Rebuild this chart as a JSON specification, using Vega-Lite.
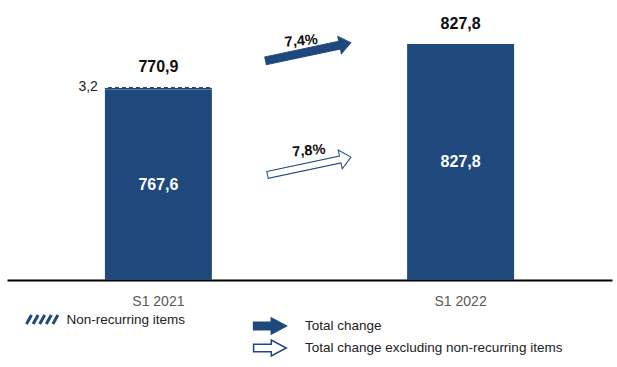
{
  "$schema": "https://vega.github.io/schema/vega-lite/v6.json",
  "width": 605,
  "height": 280,
  "autosize": {"type": "none"},
  "padding": {"left": 7, "top": 0, "right": 5, "bottom": 87},
  "background": "white",
  "config": {
    "view": {"stroke": null},
    "font": "Liberation Sans",
    "locale": {"number": {"decimal": ",", "thousands": " ", "grouping": [3], "currency": ["", " €"]}},
    "axisX": {"domainColor": "#000000", "domainWidth": 2, "ticks": false, "tickSize": 0, "labelPadding": 14, "labelFontSize": 14, "labelColor": "#595959", "labelFont": "Liberation Sans", "title": null, "grid": false, "labelAngle": 0}
  },
  "datasets": {
    "bars": [
      {"period": "S1 2021", "component": "Recurring", "value": 767.6},
      {"period": "S1 2021", "component": "Non-recurring items", "value": 3.2},
      {"period": "S1 2022", "component": "Recurring", "value": 827.8}
    ],
    "totals": [
      {"period": "S1 2021", "total": 770.9, "nonrec": 3.2},
      {"period": "S1 2022", "total": 827.8}
    ],
    "changes": [
      {"kind": "Total change", "change": 0.074},
      {"kind": "Total change excluding non-recurring items", "change": 0.078}
    ]
  },
  "resolve": {"scale": {"y": "independent"}},
  "layer": [
    {
      "layer": [
        {
          "data": {"name": "bars"},
          "mark": {"type": "bar"},
          "encoding": {
            "x": {"field": "period", "type": "nominal", "scale": {"paddingInner": 0.646, "paddingOuter": 0.324}, "title": null},
            "y": {"field": "value", "type": "quantitative", "stack": "zero", "scale": {"domain": [515.5, 886], "zero": false, "nice": false, "clamp": true}, "axis": null},
            "color": {
              "field": "component", "type": "nominal",
              "scale": {"domain": ["Recurring", "Non-recurring items"], "range": ["#1f497d", "#1f497d"]},
              "legend": {
                "title": null, "orient": "none", "legendX": 24.5, "legendY": 308, "values": ["Non-recurring items"],
                "padding": 0, "symbolSize": 400, "labelOffset": 12, "labelFontSize": 13.5, "labelColor": "#222222", "labelFont": "Liberation Sans", "labelLimit": 400,
                "encode": {"symbols": {"update": {
                  "shape": {"value": "M -1.65 0.45 L -1.15 -0.45 M -0.99 0.45 L -0.49 -0.45 M -0.33 0.45 L 0.17 -0.45 M 0.33 0.45 L 0.83 -0.45 M 0.99 0.45 L 1.49 -0.45"},
                  "fill": {"value": "transparent"}, "stroke": {"value": "#1f497d"}, "strokeWidth": {"value": 3}, "opacity": {"value": 1}, "size": {"value": 400}
                }}}
              }
            },
            "order": {"field": "component", "sort": "descending"}
          }
        },
        {
          "data": {"name": "totals"},
          "transform": [{"filter": "isValid(datum.nonrec)"}],
          "mark": {"type": "rule", "color": "#ffffff", "strokeWidth": 2, "strokeDash": [3, 4]},
          "encoding": {
            "x": {"field": "period", "type": "nominal", "bandPosition": 0},
            "x2": {"field": "period", "bandPosition": 1},
            "y": {"field": "total", "type": "quantitative"}
          }
        },
        {
          "data": {"name": "totals"},
          "mark": {"type": "text", "fontWeight": "bold", "fontSize": 16, "color": "#0d0d0d", "baseline": "alphabetic", "dy": -15},
          "encoding": {
            "x": {"field": "period", "type": "nominal"},
            "y": {"field": "total", "type": "quantitative"},
            "text": {"field": "total", "type": "quantitative", "format": ".1f"}
          }
        },
        {
          "data": {"name": "totals"},
          "transform": [{"filter": "isValid(datum.nonrec)"}],
          "mark": {"type": "text", "fontSize": 14, "color": "#222222", "baseline": "middle", "align": "right", "dx": -7},
          "encoding": {
            "x": {"field": "period", "type": "nominal", "bandPosition": 0},
            "y": {"field": "total", "type": "quantitative"},
            "text": {"field": "nonrec", "type": "quantitative", "format": ".1f"}
          }
        },
        {
          "data": {"name": "changes"},
          "transform": [{"filter": "datum.kind == 'Total change'"}],
          "layer": [
            {
              "mark": {"type": "point", "filled": true, "size": 7744, "angle": 348, "stroke": "#1f497d", "strokeWidth": 1, "opacity": 1},
              "encoding": {
                "x": {"datum": "S1 2021", "type": "nominal", "bandPosition": 1.9},
                "y": {"datum": 817.6, "type": "quantitative"},
                "shape": {"field": "change", "type": "nominal", "legend": null, "scale": {"domain": [0.074, 0.078], "range": ["M -0.99 -0.09 L 0.73 -0.09 L 0.73 -0.2 L 0.99 0 L 0.73 0.2 L 0.73 0.09 L -0.99 0.09 Z", "M -0.97 -0.08 L 0.72 -0.08 L 0.72 -0.22 L 0.97 0 L 0.72 0.22 L 0.72 0.08 L -0.97 0.08 Z"]}},
                "fill": {
                  "field": "kind", "type": "nominal",
                  "scale": {"domain": ["Total change", "Total change excluding non-recurring items"], "range": ["#1f497d", "#ffffff"]},
                  "legend": {
                    "title": null, "orient": "none", "legendX": 252, "legendY": 315, "padding": 0, "symbolSize": 400, "rowPadding": 0, "labelOffset": 24,
                    "labelFontSize": 13.5, "labelColor": "#222222", "labelFont": "Liberation Sans", "labelLimit": 400,
                    "symbolType": "M -1.64 -0.37 L 0.13 -0.37 L 0.13 -0.8 L 1.63 0 L 0.13 0.8 L 0.13 0.37 L -1.64 0.37 Z",
                    "encode": {"symbols": {"update": {
                      "shape": {"value": "M -1.64 -0.37 L 0.13 -0.37 L 0.13 -0.8 L 1.63 0 L 0.13 0.8 L 0.13 0.37 L -1.64 0.37 Z"},
                      "stroke": {"value": "#1f497d"}, "strokeWidth": {"value": 1}, "opacity": {"value": 1}, "size": {"value": 400}
                    }}}
                  }
                }
              }
            },
            {
              "mark": {"type": "text", "fontWeight": "bold", "fontSize": 14.5, "color": "#0d0d0d", "angle": 355, "baseline": "middle", "dx": -6, "dy": -11},
              "encoding": {
                "x": {"datum": "S1 2021", "type": "nominal", "bandPosition": 1.9},
                "y": {"datum": 817.6, "type": "quantitative"},
                "text": {"field": "change", "type": "quantitative", "format": ".1%"}
              }
            }
          ]
        },
        {
          "data": {"name": "changes"},
          "transform": [{"filter": "datum.kind != 'Total change'"}],
          "layer": [
            {
              "mark": {"type": "point", "filled": true, "size": 7744, "angle": 348, "stroke": "#1f497d", "strokeWidth": 1, "opacity": 1},
              "encoding": {
                "x": {"datum": "S1 2021", "type": "nominal", "bandPosition": 1.91},
                "y": {"datum": 666.3, "type": "quantitative"},
                "shape": {"field": "change", "type": "nominal", "legend": null},
                "fill": {
                  "field": "kind", "type": "nominal",
                  "legend": {
                    "title": null, "orient": "none", "legendX": 252, "legendY": 315, "padding": 0, "symbolSize": 400, "rowPadding": 0, "labelOffset": 24,
                    "labelFontSize": 13.5, "labelColor": "#222222", "labelFont": "Liberation Sans", "labelLimit": 400,
                    "symbolType": "M -1.64 -0.37 L 0.13 -0.37 L 0.13 -0.8 L 1.63 0 L 0.13 0.8 L 0.13 0.37 L -1.64 0.37 Z",
                    "encode": {"symbols": {"update": {
                      "shape": {"value": "M -1.64 -0.37 L 0.13 -0.37 L 0.13 -0.8 L 1.63 0 L 0.13 0.8 L 0.13 0.37 L -1.64 0.37 Z"},
                      "stroke": {"value": "#1f497d"}, "strokeWidth": {"value": 1}, "opacity": {"value": 1}, "size": {"value": 400}
                    }}}
                  }
                }
              }
            },
            {
              "mark": {"type": "text", "fontWeight": "bold", "fontSize": 14.5, "color": "#0d0d0d", "angle": 355, "baseline": "middle", "dx": 1, "dy": -15},
              "encoding": {
                "x": {"datum": "S1 2021", "type": "nominal", "bandPosition": 1.91},
                "y": {"datum": 666.3, "type": "quantitative"},
                "text": {"field": "change", "type": "quantitative", "format": ".1%"}
              }
            }
          ]
        }
      ]
    },
    {
      "data": {"name": "bars"},
      "transform": [{"filter": "datum.component == 'Recurring'"}],
      "mark": {"type": "text", "color": "#ffffff", "fontWeight": "bold", "fontSize": 16, "baseline": "middle"},
      "encoding": {
        "x": {"field": "period", "type": "nominal"},
        "y": {"field": "value", "type": "quantitative", "scale": {"domain": [515.5, 1256.5], "zero": false, "nice": false}, "axis": null},
        "text": {"field": "value", "type": "quantitative", "format": ".1f"}
      }
    }
  ]
}
